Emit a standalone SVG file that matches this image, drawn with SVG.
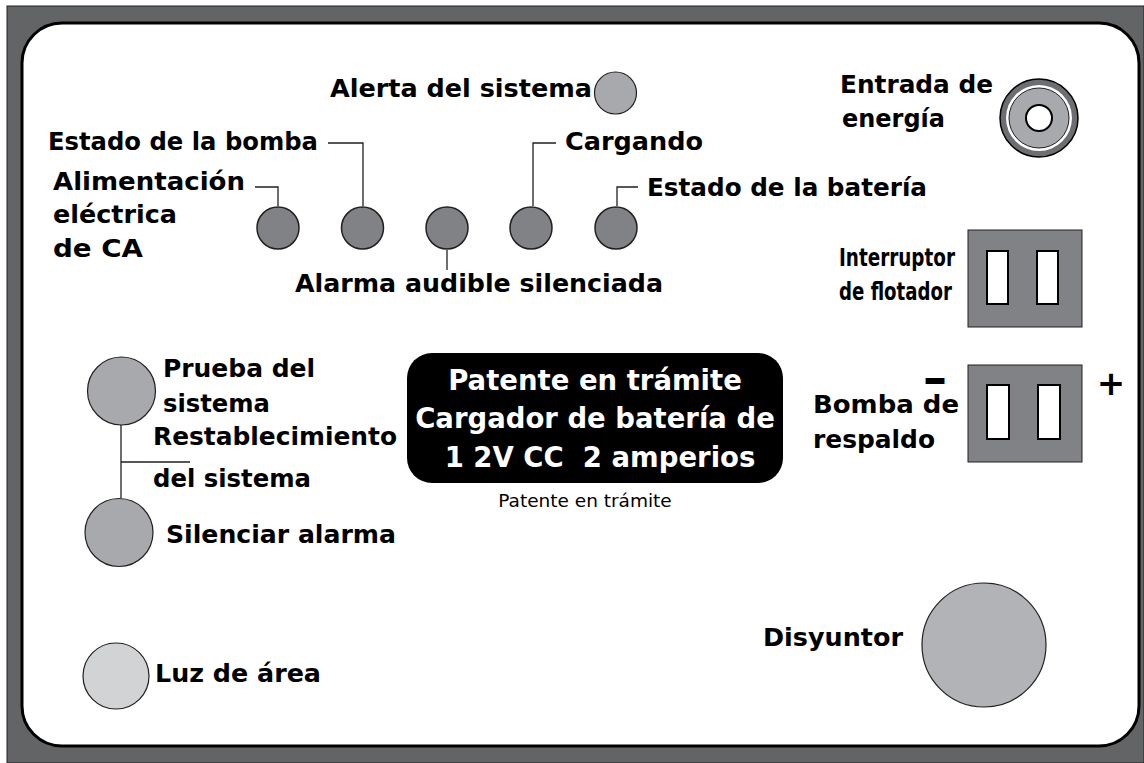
<svg xmlns="http://www.w3.org/2000/svg" width="1144" height="763" viewBox="0 0 1144 763">
<style>
.lbl{font-family:"DejaVu Sans","Liberation Sans",sans-serif;font-weight:bold;font-size:24.5px;fill:#000}
.wl{font-family:"DejaVu Sans","Liberation Sans",sans-serif;font-weight:bold;font-size:27.5px;fill:#fff}
.sm{font-family:"DejaVu Sans","Liberation Sans",sans-serif;font-size:18.5px;fill:#000}
.led{fill:#808285;stroke:#231f20;stroke-width:1.5}
.btn{fill:#a7a9ac;stroke:#231f20;stroke-width:1.2}
.ln{fill:none;stroke:#231f20;stroke-width:1.3}
.sw{fill:#808285;stroke:#231f20;stroke-width:1}
.slot{fill:#fff;stroke:#000;stroke-width:2}
.pm{font-family:"DejaVu Sans","Liberation Sans",sans-serif;font-weight:bold;fill:#000}
</style>
<rect x="7" y="6" width="1137" height="757" fill="#636466" stroke="#231f20" stroke-width="1"/>
<rect x="22" y="23" width="1117" height="723" rx="40" ry="40" fill="#fff" stroke="#000" stroke-width="3"/>

<g id="connectors">
<path class="ln" d="M255 187H278V206"/>
<path class="ln" d="M328 143H363V206"/>
<path class="ln" d="M447 250V270"/>
<path class="ln" d="M556 143H533V206"/>
<path class="ln" d="M638 187H617V206"/>
<path class="ln" d="M121 425V498M121 462H190"/>
</g>

<g id="alerta-sistema">
<circle cx="615.5" cy="93" r="21" class="btn"/>
<text class="lbl" x="330" y="97" textLength="262" lengthAdjust="spacingAndGlyphs">Alerta del sistema</text>
</g>
<g id="alimentacion-ca">
<circle cx="278" cy="228" r="21" class="led"/>
<text class="lbl" x="53" y="190" textLength="192" lengthAdjust="spacingAndGlyphs">Alimentación</text>
<text class="lbl" x="53" y="223" textLength="124" lengthAdjust="spacingAndGlyphs">eléctrica</text>
<text class="lbl" x="53" y="257" textLength="90" lengthAdjust="spacingAndGlyphs">de CA</text>
</g>
<g id="estado-bomba">
<circle cx="362.5" cy="228" r="21" class="led"/>
<text class="lbl" x="48" y="150" textLength="270" lengthAdjust="spacingAndGlyphs">Estado de la bomba</text>
</g>
<g id="alarma-silenciada">
<circle cx="447" cy="228" r="21" class="led"/>
<text class="lbl" x="295" y="292" textLength="368" lengthAdjust="spacingAndGlyphs">Alarma audible silenciada</text>
</g>
<g id="cargando">
<circle cx="531" cy="228" r="21" class="led"/>
<text class="lbl" x="565" y="150" textLength="138" lengthAdjust="spacingAndGlyphs">Cargando</text>
</g>
<g id="estado-bateria">
<circle cx="616" cy="228" r="21" class="led"/>
<text class="lbl" x="647" y="196" textLength="280" lengthAdjust="spacingAndGlyphs">Estado de la batería</text>
</g>
<g id="entrada-energia">
<circle cx="1039" cy="118" r="39" fill="#6d6e71" stroke="#000" stroke-width="1.5"/>
<circle cx="1039" cy="118" r="33" fill="#fff"/>
<circle cx="1039" cy="118" r="30" fill="#a7a9ac" stroke="#231f20" stroke-width="1"/>
<circle cx="1039" cy="118" r="13" fill="#fff" stroke="#000" stroke-width="2"/>
<text class="lbl" x="840" y="93" textLength="153" lengthAdjust="spacingAndGlyphs">Entrada de</text>
<text class="lbl" x="842" y="127" textLength="103" lengthAdjust="spacingAndGlyphs">energía</text>
</g>
<g id="interruptor-flotador">
<rect x="968" y="230" width="114" height="97" class="sw"/>
<rect x="987" y="251" width="21" height="53" class="slot"/>
<rect x="1037" y="251" width="21" height="53" class="slot"/>
<text class="lbl" x="839" y="266" textLength="116" lengthAdjust="spacingAndGlyphs">Interruptor</text>
<text class="lbl" x="839" y="300" textLength="113" lengthAdjust="spacingAndGlyphs">de flotador</text>
</g>
<g id="bomba-respaldo">
<rect x="968" y="365" width="114" height="97" class="sw"/>
<rect x="987" y="385" width="22" height="54" class="slot"/>
<rect x="1038" y="385" width="22" height="54" class="slot"/>
<text class="lbl" x="813" y="413" textLength="146" lengthAdjust="spacingAndGlyphs">Bomba de</text>
<text class="lbl" x="813" y="448" textLength="122" lengthAdjust="spacingAndGlyphs">respaldo</text>
<text class="pm" x="935" y="394" text-anchor="middle" font-size="48">–</text>
<text class="pm" x="1111" y="395" text-anchor="middle" font-size="34">+</text>
</g>
<g id="cargador">
<rect x="407" y="353" width="376" height="130" rx="25" ry="25" fill="#000"/>
<text class="wl" x="595" y="390" text-anchor="middle">Patente en trámite</text>
<text class="wl" x="595" y="428" text-anchor="middle">Cargador de batería de</text>
<text class="wl" x="600" y="467" text-anchor="middle" xml:space="preserve">1 2V CC  2 amperios</text>
<text class="sm" x="585" y="507" text-anchor="middle">Patente en trámite</text>
</g>
<g id="prueba-sistema">
<circle cx="121.5" cy="391" r="34" class="btn"/>
<text class="lbl" x="163" y="377" textLength="152" lengthAdjust="spacingAndGlyphs">Prueba del</text>
<text class="lbl" x="163" y="412" textLength="107" lengthAdjust="spacingAndGlyphs">sistema</text>
</g>
<g id="restablecimiento">
<text class="lbl" x="153" y="445" textLength="244" lengthAdjust="spacingAndGlyphs">Restablecimiento</text>
<text class="lbl" x="153" y="487" textLength="158" lengthAdjust="spacingAndGlyphs">del sistema</text>
</g>
<g id="silenciar-alarma">
<circle cx="119" cy="532.5" r="34" class="btn"/>
<text class="lbl" x="166" y="543" textLength="230" lengthAdjust="spacingAndGlyphs">Silenciar alarma</text>
</g>
<g id="luz-area">
<circle cx="116" cy="676" r="33" fill="#d1d3d4" stroke="#231f20" stroke-width="1.2"/>
<text class="lbl" x="155" y="682" textLength="166" lengthAdjust="spacingAndGlyphs">Luz de área</text>
</g>
<g id="disyuntor">
<circle cx="984" cy="645" r="62" fill="#b1b3b6" stroke="#231f20" stroke-width="1.2"/>
<text class="lbl" x="763" y="646" textLength="140" lengthAdjust="spacingAndGlyphs">Disyuntor</text>
</g>
</svg>
